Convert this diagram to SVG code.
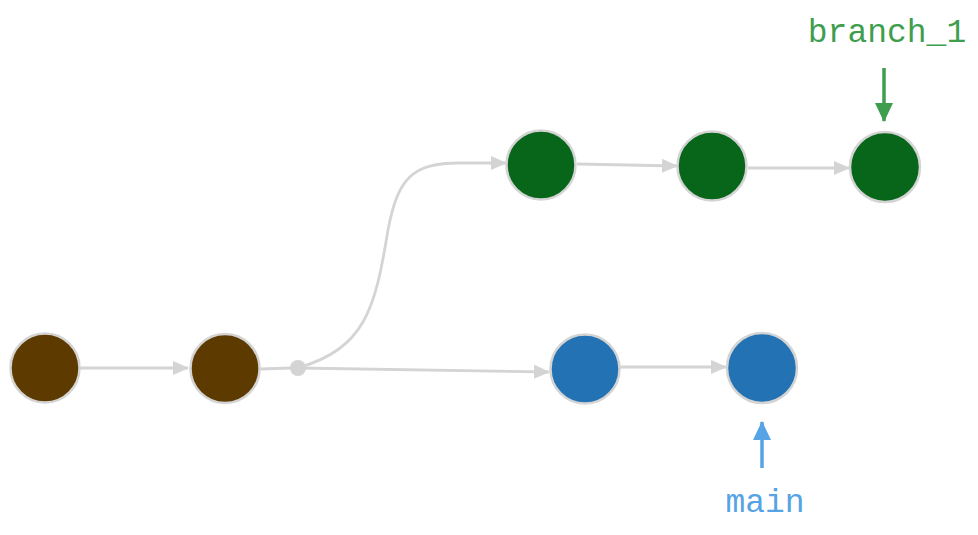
<svg xmlns="http://www.w3.org/2000/svg" width="978" height="535" viewBox="0 0 978 535">
<style>
.node{stroke:#d4d4d4;stroke-width:2.5}
.brown{fill:#5c3a00}
.green{fill:#076619}
.blue{fill:#2372b3}
.edge{fill:none;stroke:#d4d4d4;stroke-width:2.8}
.lbl{font-family:"Liberation Mono","DejaVu Sans Mono",monospace;font-size:33px;text-anchor:middle}
</style>
<defs>
<marker id="ah" markerWidth="16" markerHeight="16" refX="15" refY="8" orient="auto" markerUnits="userSpaceOnUse">
<path d="M0,1 L16,8 L0,15 Z" fill="#d4d4d4"/>
</marker>
<marker id="ahg" markerWidth="20" markerHeight="20" refX="18" refY="10" orient="auto" markerUnits="userSpaceOnUse">
<path d="M0,1 L19,10 L0,19 Z" fill="#3e9e4e"/>
</marker>
<marker id="ahb" markerWidth="20" markerHeight="20" refX="18" refY="10" orient="auto" markerUnits="userSpaceOnUse">
<path d="M0,1 L19,10 L0,19 Z" fill="#56a3e6"/>
</marker>
</defs>
<g id="connectors">
<path class="edge" d="M80,368 L188,368" marker-end="url(#ah)"/>
<path class="edge" d="M260,369 L291,368"/>
<path class="edge" d="M298,368 L549,372" marker-end="url(#ah)"/>
<path class="edge" d="M298,368 C365,348 375,310 388,230 C398,178 412,163 460,163 L506,163" marker-end="url(#ah)"/>
<path class="edge" d="M620,367 L726,367" marker-end="url(#ah)"/>
<path class="edge" d="M577,164 L677,166" marker-end="url(#ah)"/>
<path class="edge" d="M748,168 L849,168" marker-end="url(#ah)"/>
<path d="M884,68 L884,121" stroke="#3e9e4e" stroke-width="3.5" fill="none" marker-end="url(#ahg)"/>
<path d="M762,468 L762,422" stroke="#56a3e6" stroke-width="3.5" fill="none" marker-end="url(#ahb)"/>
</g>
<g id="c1"><circle class="node brown" cx="45" cy="368" r="34.5"/></g>
<g id="c2"><circle class="node brown" cx="225" cy="368.5" r="34.5"/></g>
<g id="fork"><circle cx="298" cy="368" r="8" fill="#d4d4d4"/></g>
<g id="c3"><circle class="node blue" cx="585" cy="369" r="34.5"/></g>
<g id="c4"><circle class="node blue" cx="762" cy="368" r="35"/></g>
<g id="c5"><circle class="node green" cx="541" cy="165" r="34.5"/></g>
<g id="c6"><circle class="node green" cx="712" cy="166" r="34.5"/></g>
<g id="c7"><circle class="node green" cx="885" cy="167" r="35"/></g>
<g id="label-branch_1"><text class="lbl" x="887" y="42" fill="#3e9e4e">branch_1</text></g>
<g id="label-main"><text class="lbl" x="765" y="512" fill="#56a3e6">main</text></g>
</svg>
